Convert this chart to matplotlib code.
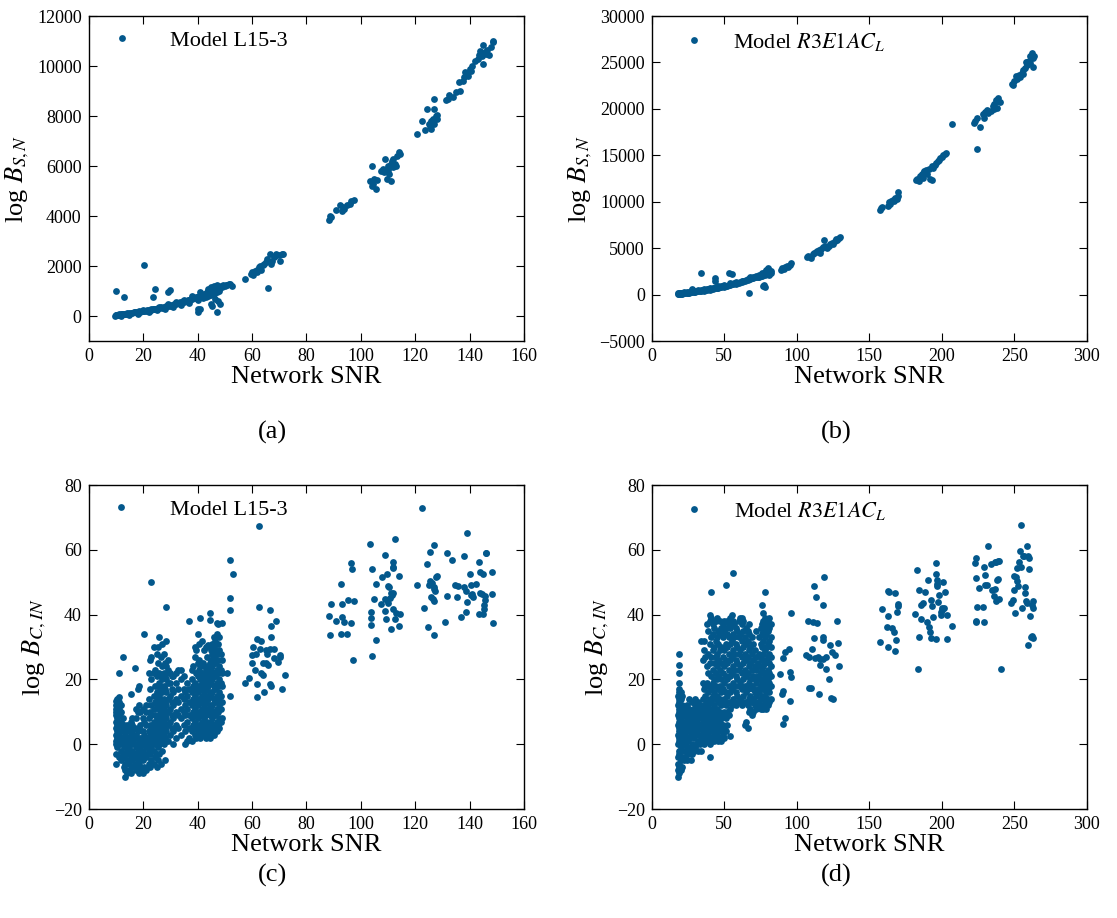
import numpy as np
import matplotlib.pyplot as plt

plt.rcParams['font.family'] = 'Liberation Serif'
plt.rcParams['mathtext.fontset'] = 'stix'

COL = '#03588c'

# ---- (a) log B_{S,N}, Model L15-3 ----
a_band = [(9.8, 20), (10, 40), (10.2, 60), (10.5, 30), (10.8, 55), (11, 45), (11.3, 70), (11.6, 50),
          (12, 65), (12.3, 85), (12.6, 70), (13, 80), (13.4, 100), (13.8, 90), (14, 110), (14.5, 100),
          (15, 120), (15.5, 130), (16, 125), (16.5, 150), (17, 145), (17.5, 165), (18, 160), (18.5, 185),
          (19, 175), (19.5, 200), (20, 190), (20.5, 220), (21, 215), (21.5, 240), (22, 230), (22.5, 260),
          (23, 250), (23.5, 280), (24, 270), (24.5, 300), (25, 290), (25.5, 330), (26, 310), (26.5, 350),
          (27, 340), (27.5, 380), (28, 360), (28.5, 400), (29, 390), (29.5, 430), (30, 420), (30.5, 460),
          (31, 450), (31.5, 490), (32, 480), (32.5, 520), (33, 510), (33.5, 550), (34, 540), (34.5, 590),
          (35, 570), (35.5, 620), (36, 600), (36.5, 660), (37, 640), (37.5, 700), (38, 680), (38.5, 740),
          (39, 720), (39.5, 780), (40, 760), (40.5, 820), (41, 800), (41.5, 860), (42, 840), (42.5, 900),
          (43, 880), (43.5, 950), (44, 920), (44.5, 1000), (45, 960), (45.5, 1050), (46, 1000), (46.5, 1100),
          (47, 1050), (47.5, 1150), (48, 1100), (48.5, 1200), (49, 1150), (49.5, 1230), (50, 1200),
          (50.5, 1260), (51, 1250), (51.5, 1300), (52, 1280), (52.5, 1200),
          (12, 20), (15, 60), (18, 100), (20, 240), (22, 180), (23, 300), (25, 240), (26, 380), (28, 300),
          (29, 480), (31, 380), (32, 560), (34, 450), (35, 650), (37, 540), (38, 800), (40, 650), (41, 950),
          (42, 720), (43, 780), (44, 820), (44, 1100), (45, 850), (45, 1150), (46, 900), (46, 1200),
          (47, 950), (47, 1230), (48, 1000)]
a_outliers = [(10, 1000), (13, 760), (20.5, 2050), (23.5, 760), (24.3, 1100), (29, 960), (30, 1060),
              (40, 300), (40.2, 150), (41, 280), (44.8, 470), (45.5, 400), (47, 150), (48.2, 470),
              (46.5, 700), (47.5, 620)]
a_clusters = [(57.5, 1500), (59.5, 1700), (60, 1750), (60.5, 1650), (61, 1800), (62, 1850), (62, 1750),
              (62.5, 1950), (63, 2000), (63.5, 1850), (64, 2050), (64.5, 2100), (65, 2150), (65.5, 2300),
              (66, 2200), (66.5, 2500), (67, 2100), (67.5, 2200), (68, 2350), (68.5, 2400), (69, 2500),
              (70, 2450), (70.5, 2200), (71, 2500), (71.5, 2500), (66, 1120),
              (88.5, 3850), (88.8, 4000), (89, 3950), (91, 4250), (92.5, 4450), (93, 4200), (93.5, 4350),
              (94, 4300), (95, 4450), (96, 4500), (96.5, 4600), (97.5, 4650),
              (103.5, 5400), (104, 6000), (104, 5200), (104.5, 5300), (105, 5500), (105.5, 5100),
              (106, 5450), (107.5, 5800), (108, 5900), (108.5, 5750), (109, 6300), (109.5, 5500),
              (110, 6000), (110, 5850), (110.5, 5700), (111, 5400), (111, 6100), (111.5, 6200),
              (112, 5950), (112, 6300), (112.5, 6100), (113, 6000), (113.5, 6400), (114, 6550), (114.5, 6500),
              (120.5, 7300), (122.5, 7800), (123.5, 7450), (124.5, 8300), (125, 7700), (125.5, 7600),
              (126, 7500), (126, 7800), (126.5, 7900), (127, 8700), (127, 8300), (127, 7700), (127.5, 8000),
              (128, 7900), (128, 8050),
              (131.5, 8650), (132, 8700), (132.5, 8850), (134, 8750), (135, 8950), (136, 9350), (136.5, 9000),
              (137.5, 9400), (138, 9550), (138.5, 9750), (139, 9700), (139.5, 9600), (140, 9900),
              (140.5, 9800), (141, 10000), (142, 10200), (143, 10300), (143.5, 10450), (144, 10600),
              (144.5, 10400), (145, 10850), (145, 10100), (145.5, 10550), (146, 10500), (146.5, 10650),
              (147, 10450), (148, 10750), (148.5, 11000), (148.5, 10950)]

# ---- (b) log B_{S,N}, Model R3E1AC_L ----
b_band = [(18, 50), (18, 150), (18.5, 100), (19, 60), (19, 180), (19.5, 120), (20, 80), (20, 200), (21, 150),
          (21, 60), (22, 120), (22, 250), (23, 180), (24, 150), (24, 280), (25, 220), (26, 200), (26, 320),
          (27, 260), (28, 250), (28, 380), (29, 320), (30, 300), (30, 420), (31, 360), (32, 340), (32, 460),
          (33, 400), (34, 380), (34, 520), (35, 450), (36, 430), (36, 580), (37, 500), (38, 480), (38, 640),
          (39, 560), (40, 540), (40, 700), (41, 620), (42, 600), (42, 760), (43, 690), (44, 660), (44, 830),
          (45, 750), (46, 730), (46, 900), (47, 820), (48, 800), (48, 980), (49, 880), (50, 870), (50, 1050),
          (51, 960), (52, 940), (53, 1030), (54, 1020), (54, 1200), (55, 1100), (56, 1100), (57, 1200),
          (58, 1180), (58, 1350), (59, 1280), (60, 1260), (61, 1380), (62, 1360), (62, 1500), (63, 1450),
          (64, 1460), (65, 1550), (66, 1560), (66, 1700), (67, 1650), (68, 1650), (68, 1850), (69, 1750),
          (70, 1750), (70, 1950), (71, 1850), (72, 1850), (72, 2050), (73, 1950), (74, 1950), (74, 2150),
          (75, 2050), (76, 2050), (76, 2300), (77, 2200), (78, 2150), (78, 2450), (79, 2300), (80, 2250),
          (80, 2550), (81, 2400), (81, 2150), (82, 2500), (82, 2300), (80, 2900), (81, 2700), (79, 2600)]
b_outliers = [(28, 650), (28, 500), (33.7, 2300), (43.5, 1800), (43.7, 1500), (53, 2300), (55.5, 2200),
              (67, 180), (76.5, 900), (78, 800), (77.5, 1000)]
b_clusters = [(89, 2700), (90, 2900), (91, 2800), (92, 3000), (93, 3100), (94, 3000), (95.5, 3200), (96, 3400),
              (107, 4100), (108, 4200), (109, 4000), (110, 3900), (111, 4400), (112, 4500), (113, 4600),
              (114, 4700), (115, 4800), (116, 4500), (117, 4900), (118, 5100), (119, 5900), (119.5, 5200),
              (120, 5100), (121, 5000), (122, 5200), (123, 5400), (124, 5600), (125, 5500), (126, 5800),
              (127, 6000), (128, 5900), (129, 6100), (130, 6200),
              (157, 9100), (158, 9300), (159, 9400), (163, 9500), (163.5, 10000), (164, 9800), (165, 10100),
              (166, 10200), (167, 10050), (168, 10400), (169, 10300), (170, 11000), (170, 10600),
              (182, 12300), (183, 12500), (184, 12200), (185, 12800), (186, 13000), (187, 12600),
              (187.5, 13300), (188, 13200), (189, 13400), (190, 13000), (191, 13500), (192, 12500),
              (193, 13800), (193, 12300), (194, 13600), (195, 14000), (196, 14200), (197, 14400),
              (198, 14500), (199, 14700), (200, 14800), (201, 15000), (202, 15100), (203, 15300),
              (207, 18400),
              (222, 18500), (223, 18700), (224, 19000), (224, 15700), (226, 18100), (228, 19400),
              (229, 19000), (230, 19700), (231, 19900), (232, 19600), (234, 19800), (235, 20300),
              (236, 20500), (236, 20000), (237, 21000), (238, 20900), (238, 20100), (239, 21200),
              (240, 20700),
              (248, 22700), (249, 22600), (250, 23000), (251, 23500), (252, 23200), (253, 23600),
              (254, 23400), (255, 23900), (256, 24200), (256, 23800), (257, 24400), (258, 25000),
              (259, 24700), (259, 25100), (260, 25200), (261, 24900), (261, 25700), (262, 26000),
              (262.5, 24500), (263, 25500), (263.5, 25700)]

# ---- (c) log B_{C,IN}, Model L15-3 ----
c_columns = [
    (10, [-6, -3, 0, 1, 3, 5, 7, 9, 10, 11, 12, 13.5]),
    (10.5, [-1, 2, 4, 6, 8, 10, 12, 14]),
    (11, [-4, 0, 3, 6, 9, 11, 13, 14.5, 22]),
    (12, [-5, -2, 1, 4, 7, 10, 12]),
    (12.5, [-3, 0, 2, 5, 8, 27]),
    (13, [-7, -4, -1, 2, 4, 6]),
    (13.5, [-10, -8, -6, -3, 0, 3]),
    (14, [-9, -5, -2, 1, 4, 6]),
    (15, [-8, -6, -3, -1, 2, 5]),
    (15.5, [-9, -4, 0, 3, 7, 15.5]),
    (16, [-7, -5, -2, 1, 4, 6, 8]),
    (17, [-6, -3, 0, 2, 5, 23.5]),
    (17.5, [-8, -4, -1, 3, 8, 11]),
    (18, [-7, -5, -2, 0, 4, 10, 17]),
    (18.5, [-9, -6, -3, 1, 5, 12, 18]),
    (19, [-8, -4, -1, 2, 6, 10]),
    (20, [-9, -5, -2, 1, 4, 8, 11]),
    (20.5, [-7, -3, 0, 3, 7, 34]),
    (21, [-8, -4, -1, 2, 6, 10, 12]),
    (22, [-6, -2, 1, 4, 8, 14, 22]),
    (22.5, [-7, -3, 0, 3, 6, 10, 17, 26]),
    (23, [-5, -1, 2, 5, 9, 12, 20, 27, 50]),
    (24, [-6, -2, 1, 4, 7, 11, 15, 22, 30]),
    (24.5, [-4, 0, 3, 6, 9, 13, 18, 23]),
    (25, [-7, -3, 1, 4, 8, 12, 16, 21, 28]),
    (25.5, [-5, -1, 2, 5, 9, 14, 18, 25, 30]),
    (26, [-3, 0, 3, 7, 11, 15, 19, 22, 33]),
    (26.5, [-6, 2, 6, 10, 13, 17, 21, 27]),
    (27, [-2, 1, 4, 8, 12, 16, 20, 24, 31]),
    (27.5, [0, 3, 7, 11, 14, 18, 22, 28]),
    (28, [-5, 2, 5, 9, 13, 17, 21, 25]),
    (28.5, [4, 8, 12, 16, 20, 24, 32, 42.5]),
    (29, [1, 6, 10, 14, 19, 23, 26]),
    (30, [3, 7, 11, 15, 19, 22]),
    (30.5, [5, 9, 13, 17, 21]),
    (31, [0, 4, 8, 12, 16, 21]),
    (32, [2, 6, 10, 14, 19, 22]),
    (33, [5, 9, 13, 17, 23]),
    (34, [3, 8, 11, 15, 20, 23]),
    (35, [6, 10, 14, 17, 21]),
    (35.5, [0, 4, 9, 12, 16]),
    (36, [1, 7, 11, 15, 19]),
    (37, [2, 5, 9, 13, 17, 38]),
    (38, [1, 4, 8, 12, 16, 20, 23]),
    (38.5, [6, 10, 14, 18, 24]),
    (39, [3, 7, 11, 15, 19, 27, 30]),
    (39.5, [2, 5, 9, 13, 17, 22, 29]),
    (40, [4, 8, 12, 16, 21, 25, 34]),
    (40.5, [3, 6, 10, 14, 18, 23, 26, 31]),
    (41, [2, 5, 9, 13, 17, 20, 24, 39]),
    (41.5, [4, 7, 11, 15, 19, 22, 32]),
    (42, [3, 6, 10, 14, 18, 21, 25]),
    (42.5, [5, 8, 12, 16, 20, 24, 29]),
    (43, [2, 6, 9, 13, 17, 21, 23, 30]),
    (43.5, [4, 7, 11, 15, 19, 22, 27]),
    (44, [3, 5, 10, 14, 18, 20, 24, 30.5]),
    (44.5, [2, 6, 9, 12, 16, 21, 25, 38.5, 40.5]),
    (45, [4, 7, 11, 15, 19, 23, 26, 29]),
    (45.5, [5, 8, 12, 16, 20, 24, 28, 31]),
    (46, [3, 6, 10, 14, 18, 22, 27, 30, 33]),
    (46.5, [5, 9, 13, 17, 21, 25, 29, 32]),
    (47, [4, 7, 11, 15, 19, 23, 28, 34, 37.5]),
    (47.5, [6, 10, 14, 18, 22, 26, 31, 37]),
    (48, [5, 8, 12, 16, 20, 24, 29, 33]),
    (48.5, [7, 11, 15, 19, 23, 28]),
    (49, [8, 13, 18, 22, 26, 37.5]),
    (51, [22]),
    (52, [15, 41.5, 45, 57]),
    (53, [52.5]),
]
c_clusters = [(57.5, 19), (59, 20.5), (60, 27.5), (60, 25), (60.5, 30), (61, 23), (61.5, 28), (62, 32.5),
              (62, 14.5), (62, 18.5), (62.5, 67.5), (62.5, 42.5), (63, 29.5), (63.5, 22), (63.5, 32),
              (64, 25), (64, 21.5), (64.5, 16), (65, 25), (65, 29), (65.5, 28), (66, 24.5), (66.5, 29.5),
              (66.5, 18.5), (66.5, 41.5), (67, 33), (67, 36.5), (67, 18), (68, 26.5), (68, 29.5), (69, 38),
              (69.5, 25.5), (70.5, 27.5), (70.5, 27), (71, 17), (72, 21.5),
              (88.6, 33.7), (88.2, 39.6), (88.9, 43.4), (91.0, 37.9), (92.9, 49.5), (93.1, 43.3), (92.8, 34.0),
              (93.2, 39.3), (93.8, 37.6), (94.8, 34.0), (95.2, 44.6), (97.4, 44.1), (96.4, 55.8), (96.8, 54.0),
              (97.3, 26.1), (96.5, 37.5),
              (103.4, 61.7), (104.2, 54.0), (103.9, 40.8), (103.9, 39.1), (103.6, 36.7), (104.0, 27.1),
              (104.7, 44.8), (105.7, 49.4), (105.7, 32.2), (107.8, 51.5), (107.5, 43.3), (109.0, 58.5),
              (109.5, 52.6), (110.0, 48.7), (110.3, 48.5), (108.8, 41.2), (109.2, 38.6), (109.0, 44.9),
              (109.6, 44.4), (110.2, 43.6), (110.8, 45.0), (111.1, 35.6), (111.4, 46.0), (111.8, 46.6),
              (111.7, 54.7), (111.7, 56.3), (111.8, 54.3), (111.9, 41.8), (112.5, 63.3), (112.7, 38.6),
              (113.1, 40.4), (114.0, 51.9), (114.2, 36.4), (114.6, 40.1), (111.2, 46.8),
              (122.5, 72.9), (120.6, 49.1), (123.3, 42.1), (124.2, 55.7), (124.7, 36.2), (125.6, 59.4),
              (126.9, 61.6), (126.8, 33.6), (125.0, 49.3), (125.5, 50.5), (126.2, 49.9), (127.0, 48.5),
              (127.6, 51.5), (128.0, 51.8), (126.9, 47.9), (127.3, 47.2), (126.5, 44.9), (126.8, 44.3),
              (126.0, 45.6),
              (130.8, 37.6), (131.8, 59.1), (131.7, 45.8), (133.5, 57.0), (134.8, 49.3), (135.4, 45.6),
              (135.8, 48.7), (136.8, 39.3), (137.8, 58.0), (137.9, 48.5), (138.6, 47.3), (138.7, 40.8),
              (139.0, 43.9), (138.9, 65.3), (140.1, 52.5), (140.4, 49.3), (140.6, 46.2), (141.2, 45.6),
              (142.2, 49.5), (143.6, 56.2), (143.8, 53.2), (143.6, 40.3), (143.9, 46.7), (144.5, 46.4),
              (145.1, 52.5), (145.0, 40.3), (145.2, 41.7), (145.2, 43.0), (145.5, 44.4), (145.5, 45.7),
              (146.2, 59.1), (146.0, 58.9), (148.4, 53.3), (148.3, 46.4), (148.6, 37.5), (140.9, 46.3)]

# ---- (d) log B_{C,IN}, Model R3E1AC_L ----
d_columns = [
    (18, [-10, -8, -6, -4, 0, 3, 6, 9, 12, 15]),
    (18.5, [-9, -7, -2, 2, 5, 8, 11, 14, 17, 19]),
    (19, [-6, -3, 1, 4, 7, 10, 13, 16, 22, 24.5, 28]),
    (20, [-8, -5, -1, 2, 5, 8, 11, 14, 16]),
    (21, [-7, -4, 0, 3, 6, 9, 12, 15]),
    (22, [-5, -2, 1, 4, 7, 10]),
    (23, [-4, 0, 3, 6, 9, 11]),
    (24, [-5, -1, 2, 5, 8, 12]),
    (25, [-3, 1, 4, 7, 10]),
    (26, [-2, 2, 5, 8, 11, 14]),
    (27, [-5, -1, 3, 6, 9]),
    (28, [-3, 0, 4, 7, 10, 13]),
    (29, [-2, 2, 5, 8, 11]),
    (30, [-1, 3, 6, 9, 12, 14]),
    (31, [0, 4, 7, 10]),
    (32, [-2, 1, 5, 8, 11, 13]),
    (33, [0, 3, 6, 9, 12]),
    (34, [-2, 2, 5, 8, 11, 32]),
    (35, [1, 4, 7, 10, 14, 19, 26]),
    (36, [0, 3, 6, 9, 12, 17, 29, 32]),
    (37, [2, 5, 8, 11, 15, 18, 27]),
    (38, [1, 4, 7, 10, 13, 19, 24, 37]),
    (39, [3, 6, 9, 12, 16, 22, 28, 35]),
    (40, [-4, 0, 2, 5, 8, 11, 14, 18, 25, 31, 38, 40]),
    (41, [1, 4, 7, 10, 13, 17, 21, 27, 33, 39, 47]),
    (42, [2, 5, 8, 11, 15, 19, 23, 29, 34, 37]),
    (43, [1, 3, 6, 9, 12, 16, 20, 25, 30, 36]),
    (44, [2, 4, 7, 10, 14, 18, 22, 27, 32, 38]),
    (45, [3, 5, 8, 11, 15, 20, 24, 28, 33, 39]),
    (46, [1, 4, 6, 9, 13, 17, 21, 26, 31, 35]),
    (47, [2, 5, 7, 10, 14, 18, 23, 29, 34, 38]),
    (48, [1, 4, 8, 12, 16, 20, 25, 30, 36]),
    (49, [3, 6, 9, 13, 17, 22, 27, 33, 37]),
    (50, [2, 5, 10, 14, 19, 24, 29, 35, 38]),
    (51, [4, 8, 12, 16, 21, 26, 31, 36, 49]),
    (52, [6, 10, 15, 20, 25, 30, 34, 38]),
    (53, [9, 13, 18, 23, 28, 33, 37]),
    (54, [2.5, 11, 16, 21, 26, 31, 36, 39]),
    (55, [12, 17, 22, 27, 32, 37, 40]),
    (56, [14, 19, 24, 29, 34, 38, 53]),
    (57, [13, 18, 23, 28, 33, 37]),
    (58, [12, 16, 21, 26, 31, 36]),
    (59, [15, 20, 25, 30, 35]),
    (60, [13, 18, 23, 28, 33, 38]),
    (61, [14, 19, 24, 29, 34, 39]),
    (62, [12, 17, 22, 27, 32, 37, 39]),
    (63, [15, 20, 25, 30, 35, 38]),
    (64, [6, 13, 18, 23, 28, 33]),
    (65, [7, 16, 21, 26, 31, 36]),
    (66, [5, 12, 17, 22, 27, 32, 35]),
    (67, [10, 14, 19, 24, 29, 34, 37]),
    (68, [11, 15, 20, 25, 30]),
    (69, [9, 13, 18, 23, 28, 33]),
    (70, [10, 14, 17, 21, 26, 31]),
    (71, [12, 16, 20, 24, 29]),
    (72, [11, 15, 19, 23, 27, 35]),
    (73, [13, 17, 21, 25]),
    (74, [12, 16, 20, 24, 28, 33]),
    (75, [11, 14, 18, 22, 27, 31, 36]),
    (76, [12, 15, 19, 23, 26, 30, 34, 37, 43]),
    (77, [11, 14, 17, 20, 24, 28, 32, 35, 38, 40.5]),
    (78, [12, 15, 18, 21, 25, 29, 33, 36, 39, 47]),
    (79, [11, 13, 16, 19, 22, 26, 30, 34, 37]),
    (80, [12, 14, 17, 20, 23, 27, 31, 35, 38]),
    (81, [13, 16, 19, 22, 25, 28, 32, 36, 39]),
    (82, [14, 18, 21, 24, 27, 30, 33, 37]),
]
d_clusters = [(88.4, 21.7), (89.8, 15.5), (90.7, 16.5), (90.3, 6.3), (92.1, 8.2), (90.7, 26.5), (92.1, 28.6),
              (94.4, 29.3), (95.5, 22.2), (95.8, 20.9), (95.3, 13.4), (96.0, 40.4),
              (107.5, 38.0), (112.1, 48.7), (113.0, 45.3), (118.1, 43.1), (118.5, 51.6), (111.4, 37.7),
              (113.7, 37.5), (111.6, 32.9), (117.9, 33.2), (118.3, 32.1), (110.5, 29.3), (106.6, 27.5),
              (108.4, 26.8), (112.6, 26.7), (114.9, 27.0), (116.2, 26.2), (118.3, 26.2), (120.4, 27.0),
              (116.0, 24.4), (119.9, 23.1), (121.9, 20.2), (108.4, 17.5), (109.8, 17.3), (115.3, 15.4),
              (123.4, 14.3), (125.0, 14.1), (123.2, 30.5), (128.0, 38.0), (124.5, 28.6), (126.6, 27.5),
              (129.3, 24.0), (128.2, 31.1),
              (157.4, 31.7), (158.5, 41.7), (162.7, 47.4), (163.8, 47.0), (167.5, 46.8), (162.7, 39.6),
              (162.2, 36.3), (165.4, 36.0), (167.3, 34.6), (162.9, 30.1), (168.0, 28.8), (168.2, 32.2),
              (169.9, 43.4), (169.3, 40.8), (169.8, 42.8),
              (182.9, 53.9), (184.0, 47.6), (181.5, 40.1), (183.8, 23.2), (184.0, 33.1), (185.6, 38.6),
              (185.9, 43.0), (186.8, 43.6), (188.6, 47.0), (190.5, 50.7), (189.8, 37.8), (191.4, 36.1),
              (192.1, 34.6), (192.3, 32.8), (192.5, 44.6), (193.0, 42.8), (193.7, 39.4), (196.0, 55.8),
              (196.2, 52.7), (196.5, 50.7), (196.7, 49.5), (196.5, 48.7), (196.0, 32.4), (197.0, 43.9),
              (198.0, 46.0), (199.2, 40.7), (199.6, 40.0), (200.1, 41.3), (201.3, 42.0), (201.0, 50.0),
              (202.4, 47.1), (203.3, 39.9), (203.6, 32.4), (207.0, 36.5), (199.8, 42.0),
              (222.7, 55.8), (223.8, 57.5), (223.8, 51.2), (224.3, 42.3), (223.4, 37.9), (223.6, 37.6),
              (228.4, 42.5), (228.9, 54.8), (229.3, 37.7), (225.9, 48.3), (230.0, 52.3), (232.1, 61.3),
              (230.8, 49.1), (229.4, 49.2), (233.6, 55.7), (235.8, 45.7), (237.2, 56.4), (237.2, 44.2),
              (239.0, 56.6), (239.7, 56.5), (236.3, 56.1), (237.9, 50.6), (238.8, 51.0), (240.8, 23.3),
              (234.3, 47.7), (236.6, 47.9), (239.3, 44.9),
              (247.9, 43.5), (249.1, 44.4), (249.8, 47.7), (249.6, 51.9), (250.7, 40.6), (251.1, 51.5),
              (252.0, 50.4), (251.6, 54.3), (252.7, 48.8), (252.9, 56.3), (254.0, 59.8), (254.2, 67.8),
              (254.7, 54.8), (255.1, 42.1), (255.8, 58.1), (256.7, 58.0), (257.1, 46.6), (257.4, 48.5),
              (257.8, 44.2), (258.9, 43.5), (258.7, 61.2), (259.7, 58.0), (259.9, 57.4), (260.1, 54.2),
              (259.7, 30.6), (260.9, 39.7), (261.9, 43.0), (262.5, 44.3), (263.0, 42.1), (261.9, 33.5),
              (262.5, 32.9), (261.6, 33.2)]


def pairs(*groups):
    pts = [p for g in groups for p in g]
    return np.array([p[0] for p in pts]), np.array([p[1] for p in pts])


def expand(columns):
    return [(x, y) for x, ys in columns for y in ys]


panels = [
    dict(pos=[0.0794, 0.6285, 0.3897, 0.354], data=pairs(a_band, a_outliers, a_clusters),
         xlim=(0, 160), xt=np.arange(0, 161, 20), ylim=(-1000, 12000), yt=np.arange(0, 12001, 2000),
         ylab=r'log $B_{S,N}$', leg='Model L15-3', lx=0.051, tp=1.65, cap='(a)', cxy=(0.2435, 0.5294)),
    dict(pos=[0.5835, 0.6285, 0.3896, 0.354], data=pairs(b_band, b_outliers, b_clusters),
         xlim=(0, 300), xt=np.arange(0, 301, 50), ylim=(-5000, 30000), yt=np.arange(-5000, 30001, 5000),
         ylab=r'log $B_{S,N}$', leg=r'Model $R3E1AC_L$', lx=0.072, tp=1.25, cap='(b)', cxy=(0.7484, 0.5294)),
    dict(pos=[0.0794, 0.1187, 0.3897, 0.3529], data=pairs(expand(c_columns), c_clusters),
         xlim=(0, 160), xt=np.arange(0, 161, 20), ylim=(-20, 80), yt=np.arange(-20, 81, 20),
         ylab=r'log $B_{C,IN}$', leg='Model L15-3', lx=0.049, tp=1.7, cap='(c)', cxy=(0.2444, 0.0468)),
    dict(pos=[0.5835, 0.1187, 0.3896, 0.3529], data=pairs(expand(d_columns), d_clusters),
         xlim=(0, 300), xt=np.arange(0, 301, 50), ylim=(-20, 80), yt=np.arange(-20, 81, 20),
         ylab=r'log $B_{C,IN}$', leg=r'Model $R3E1AC_L$', lx=0.072, tp=1.3, cap='(d)', cxy=(0.7484, 0.0468)),
]

fig = plt.figure(figsize=(11.17, 9.18), dpi=100)
for p in panels:
    ax = fig.add_axes(p['pos'])
    x, y = p['data']
    ax.plot(x, y, 'o', color=COL, ms=4.9, mew=0, label=p['leg'])
    ax.set_xlim(*p['xlim'])
    ax.set_ylim(*p['ylim'])
    ax.set_xticks(p['xt'])
    ax.set_yticks(p['yt'])
    ax.tick_params(direction='in', top=True, right=True, length=6, width=0.8, labelsize=13, pad=5)
    for s in ax.spines.values():
        s.set_linewidth(1.0)
    ax.set_xlabel('Network SNR', fontsize=19, labelpad=1)
    ax.set_ylabel(p['ylab'], fontsize=19, labelpad=4)
    ax.legend(loc='upper left', bbox_to_anchor=(p['lx'], 0.955), frameon=False, numpoints=1,
              fontsize=16, handlelength=1.0, handletextpad=p['tp'], borderaxespad=0, borderpad=0)
    fig.text(p['cxy'][0], p['cxy'][1], p['cap'], ha='center', va='center', fontsize=19)

fig.savefig('out.png', dpi=100)
